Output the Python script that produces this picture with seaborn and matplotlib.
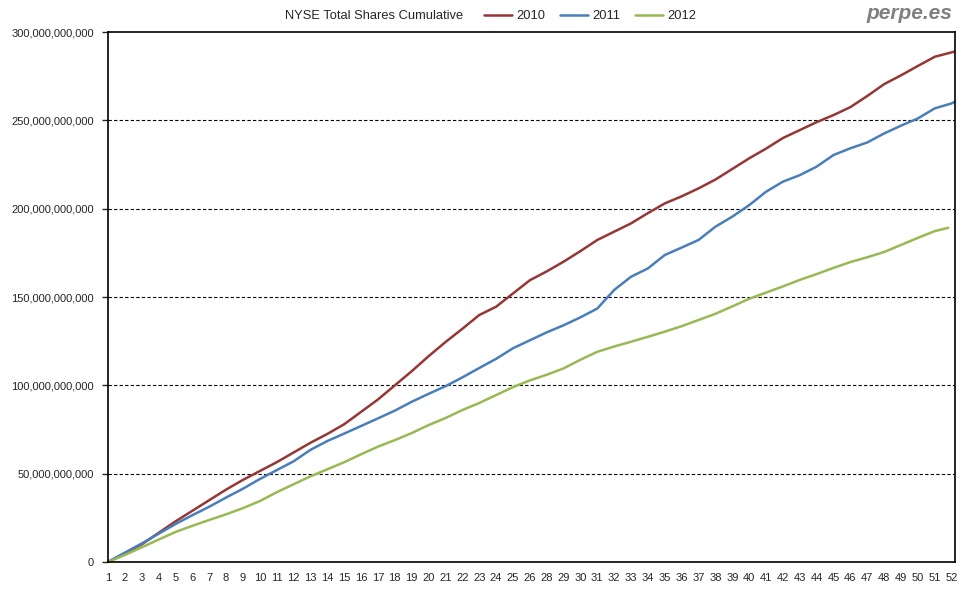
import pandas as pd
import matplotlib.pyplot as plt
import matplotlib.ticker as mticker
import seaborn as sns

sns.set_style("white")
plt.rcParams['font.family'] = ['Liberation Sans', 'DejaVu Sans']

# week labels on the category axis (week 27 is skipped in the source)
week_labels = [1, 2, 3, 4, 5, 6, 7, 8, 9, 10, 11, 12, 13, 14, 15, 16, 17, 18,
               19, 20, 21, 22, 23, 24, 25, 26, 28, 29, 30, 31, 32, 33, 34, 35,
               36, 37, 38, 39, 40, 41, 42, 43, 44, 45, 46, 47, 48, 49, 50, 51, 52]

# trading-day index of each sample (a label every 5 sessions)
days_full = list(range(0, 251, 5)) + [251]
days_2012 = list(range(0, 246, 5)) + [249]

# cumulative shares, billions
shares_2010 = [0, 5.0, 10.0, 16.5, 23, 29, 35, 41, 46.5, 51.5,
               56.5, 62, 67.5, 72.5, 78, 85, 92, 100, 108, 116.5,
               124.5, 132, 139.8, 144.5, 152, 159.5, 164.5, 170, 176, 182.3,
               187, 191.7, 197.5, 203, 207, 211.5, 216.5, 222.5, 228.5, 234,
               240, 244.5, 249, 253, 257.5, 263.8, 270.5, 275.5, 280.8, 286,
               288.5, 289]
shares_2011 = [0, 5.3, 10.5, 16, 21.5, 26.5, 31.3, 36.5, 41.5, 47,
               52, 57, 63.5, 68.5, 72.7, 77, 81.3, 85.7, 90.7, 95.2,
               99.5, 104.5, 109.8, 115, 121, 125.5, 130, 134, 138.5, 143.5,
               154, 161.5, 166.2, 173.8, 178, 182.3, 189.8, 195.5, 202, 209.6,
               215.3, 219, 223.8, 230.4, 234.2, 237.5, 242.6, 247, 251.1, 256.8,
               259.6, 260.6]
shares_2012 = [0, 4, 8.3, 12.7, 17, 20.5, 23.8, 27, 30.5, 34.5,
               39.5, 44, 48.5, 52.5, 56.5, 61, 65.3, 69, 73, 77.5,
               81.5, 86, 90, 94.5, 99, 102.8, 106, 109.6, 114.5, 119,
               122, 124.7, 127.5, 130.4, 133.5, 137, 140.5, 144.7, 149, 152.5,
               156, 159.7, 163, 166.5, 169.8, 172.5, 175.5, 179.5, 183.5, 187.3,
               189.2]

years = ['2010', '2011', '2012']
colors = {'2010': '#953735', '2011': '#4A7EBB', '2012': '#98B954'}

frames = []
for year, days, vals in zip(years, [days_full, days_full, days_2012],
                            [shares_2010, shares_2011, shares_2012]):
    frames.append(pd.DataFrame({'day': days,
                                'shares': [v * 1e9 for v in vals],
                                'year': year}))
df = pd.concat(frames, ignore_index=True)

fig = plt.figure(figsize=(9.8, 6), dpi=100)
ax = fig.add_axes([0.1102, 0.0633, 0.8643, 0.8833])

sns.lineplot(data=df, x='day', y='shares', hue='year', palette=colors,
             linewidth=1.8, ax=ax, legend=False)

ax.set_xlim(0, 251)
ax.set_ylim(0, 300e9)
ax.set_xticks(list(range(0, 251, 5)))
ax.set_xticklabels([str(w) for w in week_labels])
ax.set_yticks([0, 50e9, 100e9, 150e9, 200e9, 250e9, 300e9])
ax.yaxis.set_major_formatter(mticker.FuncFormatter(lambda v, p: f'{v:,.0f}'))
ax.tick_params(axis='x', length=0, pad=8, labelsize=8)
ax.tick_params(axis='y', length=4, width=1, direction='out', pad=6,
               labelsize=8, left=True)
ax.set_xlabel('')
ax.set_ylabel('')

for gv in [50e9, 100e9, 150e9, 200e9, 250e9]:
    ax.axhline(gv, color='black', linewidth=0.8, linestyle=(0, (3, 2)), zorder=0)

for s in ax.spines.values():
    s.set_visible(True)
    s.set_color('black')
    s.set_linewidth(1.2)

# title + inline legend
fig.text(0.3816, 0.973, 'NYSE Total Shares Cumulative', ha='center',
         va='center', fontsize=9.25)
handles = [plt.Line2D([], [], color=colors[y], linewidth=1.8) for y in years]
ax.legend(handles, years, loc='center left', bbox_to_anchor=(0.494, 0.973),
          bbox_transform=fig.transFigure, ncol=3, frameon=False, fontsize=9.25,
          handlelength=2.2, handletextpad=0.3, columnspacing=1.15,
          borderpad=0, borderaxespad=0)

fig.text(0.972, 0.978, 'perpe.es', ha='right', va='center', fontsize=15,
         fontweight='bold', fontstyle='italic', color='#808080')

fig.savefig('out.png', dpi=100)
